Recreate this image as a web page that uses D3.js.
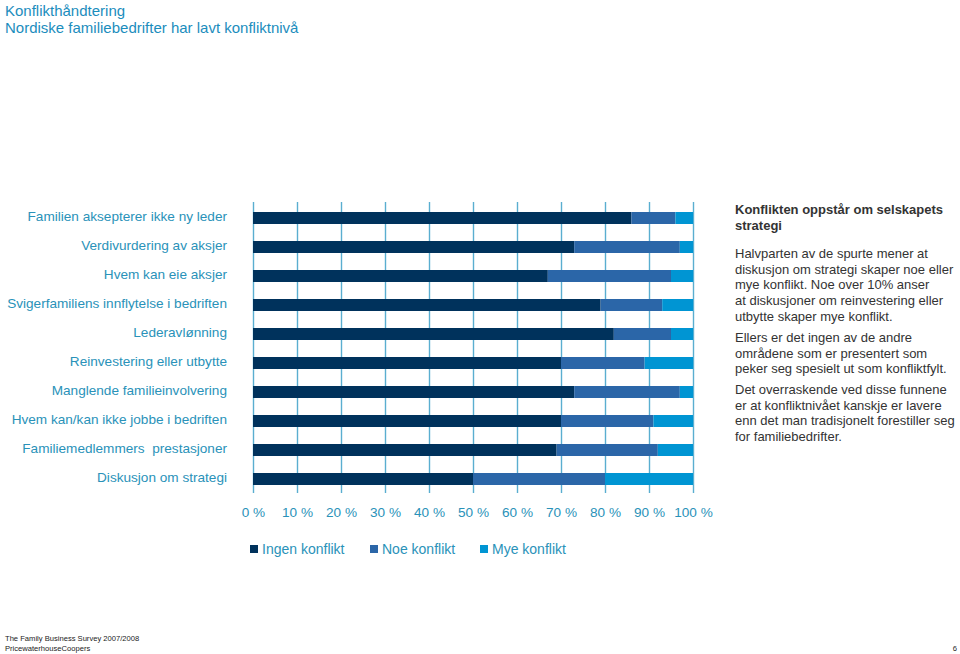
<!DOCTYPE html>
<html><head><meta charset="utf-8">
<script src="https://cdn.jsdelivr.net/npm/d3@7"></script>
<style>
body{margin:0;background:#fff;}
svg{display:block;font-family:"Liberation Sans",Arial,Helvetica,sans-serif;}
</style></head>
<body>
<svg id="chart" width="960" height="654"></svg>
<script>
const categories = [
  "Familien aksepterer ikke ny leder",
  "Verdivurdering av aksjer",
  "Hvem kan eie aksjer",
  "Svigerfamiliens innflytelse i bedriften",
  "Lederavlønning",
  "Reinvestering eller utbytte",
  "Manglende familieinvolvering",
  "Hvem kan/kan ikke jobbe i bedriften",
  "Familiemedlemmers  prestasjoner",
  "Diskusjon om strategi"
];
const ingen = [86, 73, 67, 79, 82, 70, 73, 70, 69, 50];
const noe   = [10, 24, 28, 14, 13, 19, 24, 21, 23, 30];
const mye   = [4, 3, 5, 7, 5, 11, 3, 9, 8, 20];
const seriesNames = ["Ingen konflikt", "Noe konflikt", "Mye konflikt"];
const seriesColors = ["#00325c", "#2b66a8", "#0095d3"];
const tickValues = [0,10,20,30,40,50,60,70,80,90,100];

const svg = d3.select("#chart");
const teal = "#2a92b9";

// Titles
svg.append("text").attr("x",5).attr("y",16).attr("font-size",15).attr("fill","#1b8dbd").text("Konflikthåndtering");
svg.append("text").attr("x",5).attr("y",33).attr("font-size",15).attr("fill","#1b8dbd").text("Nordiske familiebedrifter har lavt konfliktnivå");

const x = d3.scaleLinear().domain([0,100]).range([253,693]);
const y = d3.scaleBand().domain(categories).range([212,485]).paddingInner(17/29).paddingOuter(0);

// gridlines + tick labels
const gAxis = svg.append("g").attr("transform","translate(0,493)")
  .call(d3.axisBottom(x).tickValues(tickValues).tickSize(-(493-202)).tickPadding(14).tickFormat(d => d + " %"));
gAxis.select(".domain").remove();
gAxis.selectAll(".tick line").attr("stroke","#5aaed0").attr("stroke-width",1.4);
gAxis.selectAll(".tick text").attr("font-size",13.6).attr("fill",teal).attr("font-family","Liberation Sans, Arial, sans-serif");

// stacked data
const data = categories.map((c,i) => ({cat:c, ingen:ingen[i], noe:noe[i], mye:mye[i]}));
const stack = d3.stack().keys(["ingen","noe","mye"])(data);
svg.append("g").selectAll("g").data(stack).join("g")
  .attr("fill",(d,i)=>seriesColors[i])
  .selectAll("rect").data(d=>d).join("rect")
  .attr("x",d=>x(d[0]))
  .attr("width",d=>x(d[1])-x(d[0]))
  .attr("y",d=>y(d.data.cat))
  .attr("height",y.bandwidth());

// category labels
const gY = svg.append("g").attr("transform","translate(227,-1)")
  .call(d3.axisLeft(y).tickSize(0).tickPadding(0));
gY.select(".domain").remove();
gY.selectAll(".tick text").attr("font-size",13.6).attr("fill",teal)
  .attr("font-family","Liberation Sans, Arial, sans-serif").style("white-space","pre");

// legend
const leg = svg.append("g");
const legX = [250, 370, 480];
seriesNames.forEach((n,i)=>{
  leg.append("rect").attr("x",legX[i]).attr("y",545).attr("width",8).attr("height",8).attr("fill",seriesColors[i]);
  leg.append("text").attr("x",legX[i]+12).attr("y",554).attr("font-size",14).attr("fill",teal).text(n);
});

// right-hand text
const txt = svg.append("g").attr("font-size",13).attr("fill","#333");
const heading = ["Konflikten oppstår om selskapets","strategi"];
heading.forEach((l,i)=>txt.append("text").attr("x",735).attr("y",214+i*16).attr("font-weight","bold").text(l));
const paras = [
  {y:258, lines:["Halvparten av de spurte mener at","diskusjon om strategi skaper noe eller","mye konflikt. Noe over 10% anser","at diskusjoner om reinvestering eller","utbytte skaper mye konflikt."]},
  {y:342, lines:["Ellers er det ingen av de andre","områdene som er presentert som","peker seg spesielt ut som konfliktfylt."]},
  {y:394, lines:["Det overraskende ved disse funnene","er at konfliktnivået kanskje er lavere","enn det man tradisjonelt forestiller seg","for familiebedrifter."]}
];
paras.forEach(p=>p.lines.forEach((l,i)=>txt.append("text").attr("x",735).attr("y",p.y+i*15.7).text(l)));

// footer
svg.append("text").attr("x",5).attr("y",641).attr("font-size",7.6).attr("fill","#222").text("The Family Business Survey 2007/2008");
svg.append("text").attr("x",5).attr("y",651).attr("font-size",7.6).attr("fill","#222").text("PricewaterhouseCoopers");
svg.append("text").attr("x",957).attr("y",651).attr("font-size",7.6).attr("fill","#222").attr("text-anchor","end").text("6");
</script>
</body></html>
